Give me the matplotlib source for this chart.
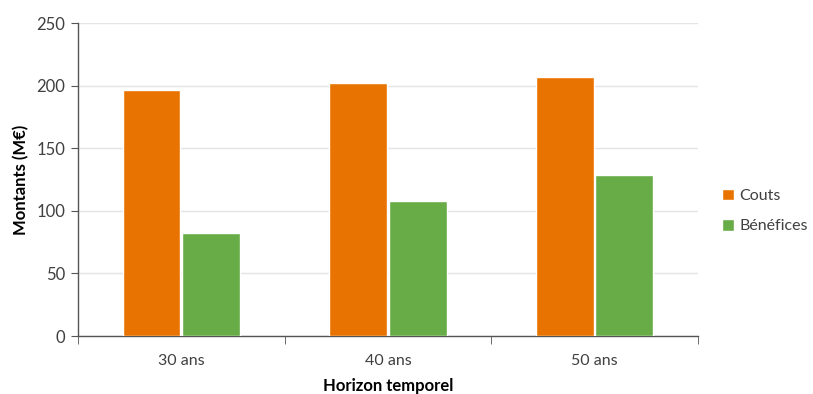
import numpy as np
import matplotlib.pyplot as plt

plt.rcParams['font.family'] = ['Lato', 'DejaVu Sans']

horizons = ["30 ans", "40 ans", "50 ans"]
couts = [196.5, 202, 207]
benefices = [82.5, 108, 129]

x = np.arange(len(horizons))
w = 0.28

fig = plt.figure(figsize=(8.13, 3.94), dpi=100)
ax = fig.add_axes([0.0959, 0.1472, 0.7626, 0.7937])

ax.bar(x - w / 2 - 0.004, couts, width=w, color='#E97300', edgecolor='white', linewidth=1, label='Couts', zorder=3)
ax.bar(x + w / 2 + 0.004, benefices, width=w, color='#67AC47', edgecolor='white', linewidth=1, label='Bénéfices', zorder=3)

ax.set_xlim(-0.5, 2.5)
ax.set_ylim(0, 250)
ax.set_yticks(range(0, 251, 50))
ax.yaxis.grid(True, color='#E4E4E4', linewidth=1, zorder=0)
ax.set_axisbelow(True)

ax.set_xticks(x)
ax.set_xticklabels(horizons, fontsize=11.5, color='#404040')
ax.set_xticks([-0.5, 0.5, 1.5, 2.5], minor=True)
ax.tick_params(axis='x', which='major', length=0, pad=13)
ax.tick_params(axis='x', which='minor', length=6, color='#555555')
ax.tick_params(axis='y', length=5, color='#555555', labelsize=12, labelcolor='#404040', pad=4)

for s in ['top', 'right']:
    ax.spines[s].set_visible(False)
for s in ['left', 'bottom']:
    ax.spines[s].set_color('#555555')
    ax.spines[s].set_linewidth(1)

ax.set_ylabel("Montants (M€)", fontsize=12, fontweight='bold', labelpad=5)
ax.set_xlabel("Horizon temporel", fontsize=12, fontweight='bold', labelpad=7)

ax.legend(loc='center left', bbox_to_anchor=(1.015, 0.40), frameon=False, fontsize=11.5,
          handlelength=0.75, handleheight=0.75, handletextpad=0.35, labelspacing=1.0,
          labelcolor='#404040')

fig.savefig("out.png", dpi=100)
